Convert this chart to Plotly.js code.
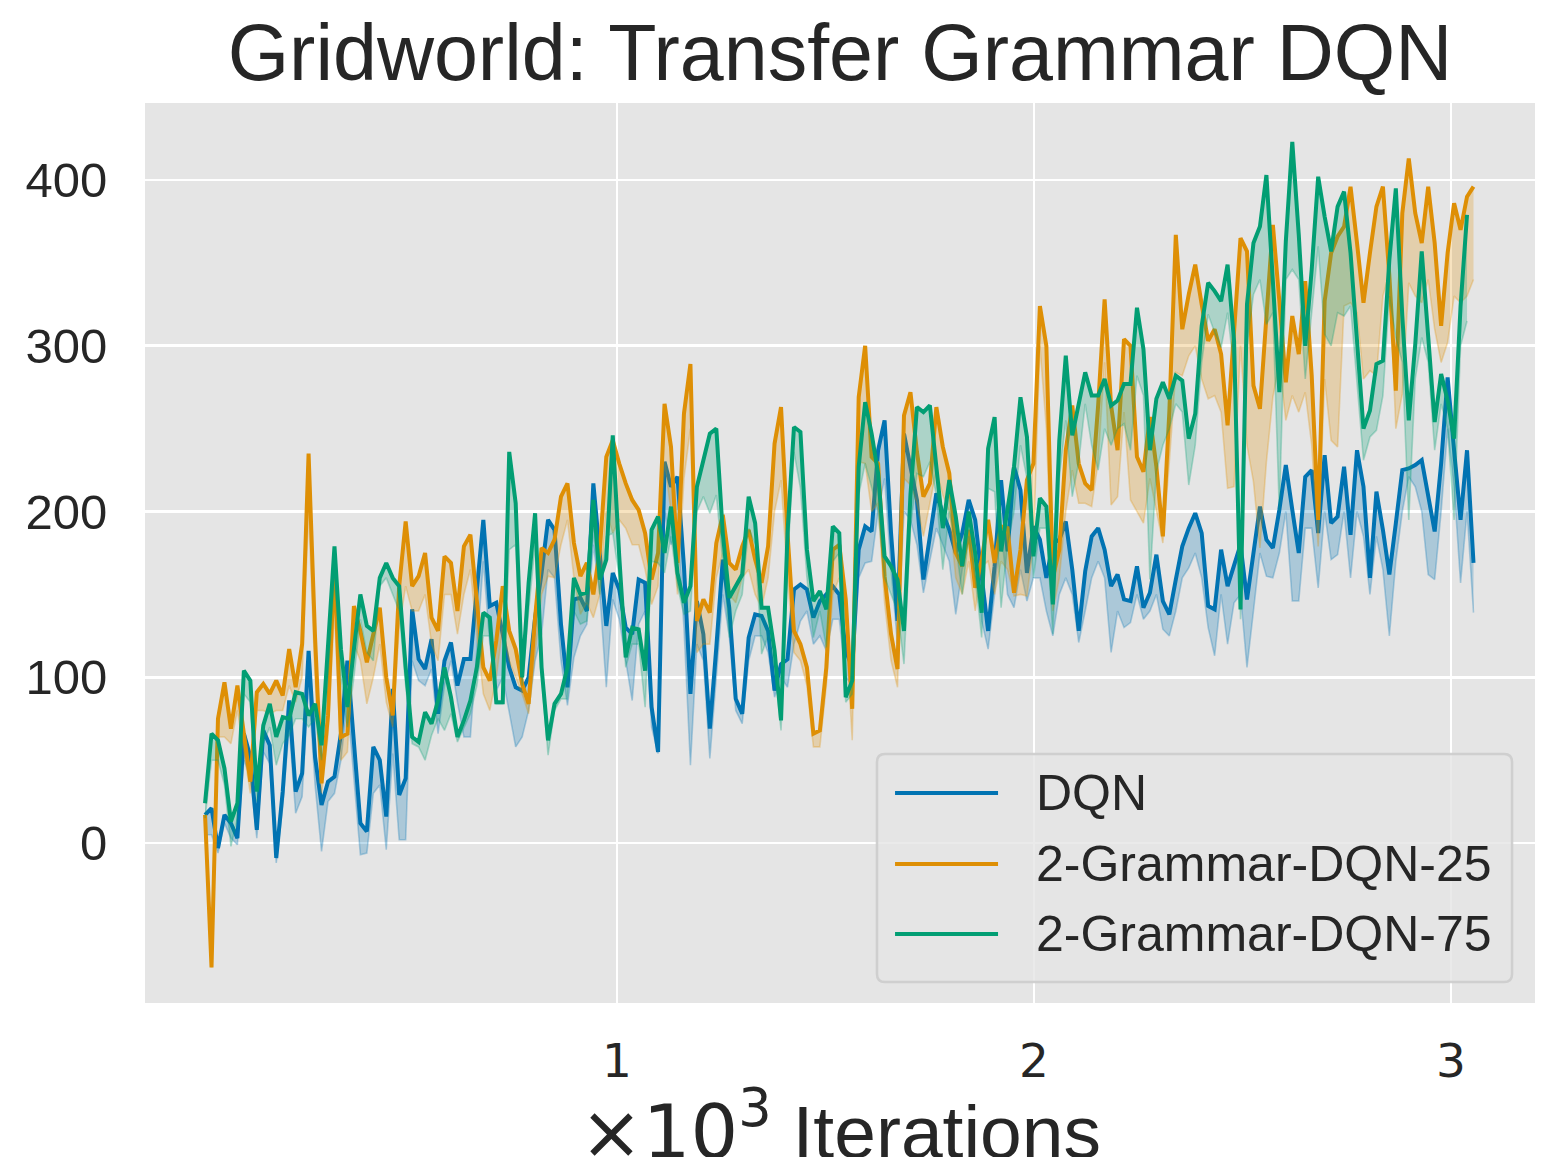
<!DOCTYPE html>
<html>
<head>
<meta charset="utf-8">
<script src="https://cdn.plot.ly/plotly-3.0.1.min.js"></script>
<style>html,body{margin:0;padding:0;background:#fff;}#chart{width:1547px;height:1157px;}</style>
</head>
<body>
<div id="chart"></div>
<script>
// x positions (thousands of iterations): first sample and spacing
const X_START = 0.012;
const X_STEP = 0.01552;

const seriesNames = ["DQN", "2-Grammar-DQN-25", "2-Grammar-DQN-75"];
const seriesColors = ["#0173b2", "#de8f05", "#029e73"];
const xTickVals = [1, 2, 3];
const xTickText = ["1", "2", "3"];
const yTickVals = [0, 100, 200, 300, 400];
const xAxisTitle = '<span style="font-family:DejaVu Sans">×10<sup>3</sup></span> Iterations';

// DQN mean
const dqn = [17,21,-3,17,12,3,66,52,8,68,59,-9,31,86,31,42,116,52,23,37,
40,66,110,59,12,7,58,50,16,93,29,39,141,111,105,123,78,110,121,95,
111,111,150,195,143,145,126,106,94,92,100,136,163,195,189,132,94,147,148,140,
217,175,131,163,153,130,126,159,157,82,55,230,215,221,167,90,146,126,69,118,
171,142,87,78,124,138,137,128,92,108,111,153,156,153,136,146,150,155,150,116,
106,177,191,188,237,255,187,134,247,227,207,159,187,211,199,189,175,187,207,195,
161,128,167,219,176,227,213,163,191,183,160,181,183,194,165,128,164,185,190,177,
155,162,147,146,167,142,151,174,146,138,159,179,190,199,187,143,141,177,155,167,
180,147,176,203,183,178,201,228,201,175,221,225,187,234,193,197,227,186,237,215,
160,212,189,162,193,225,226,228,231,209,188,229,281,237,195,237,169];
// DQN band other edge
const dqnBand = [5,5,-6,12,3,-1,50,40,3,55,48,-12,22,70,18,28,95,35,-5,25,
30,50,85,40,-7,-6,30,35,-4,54,2,2,110,98,95,105,66,95,110,85,
64,64,120,170,120,92,100,80,58,64,80,110,126,165,160,110,83,112,125,132,
180,150,94,147,135,110,86,132,140,70,54,200,180,190,130,47,120,110,51,100,
150,125,80,72,110,125,125,115,88,100,94,120,134,140,120,125,116,135,135,100,
95,160,169,170,200,220,165,120,200,195,180,151,170,190,180,170,138,165,185,170,
134,117,150,190,150,142,165,146,160,160,140,125,150,160,150,121,140,160,170,160,
115,140,130,133,150,135,140,150,129,125,140,160,166,175,160,130,113,150,120,145,
150,106,140,175,161,160,175,200,146,146,190,190,154,200,171,174,200,160,200,185,
150,185,165,125,170,200,221,215,200,162,159,200,250,215,157,200,139];

// 2-Grammar-DQN-25 mean
const g25 = [17,-75,75,97,69,95,66,37,91,96,90,98,89,117,94,120,235,124,36,77,
170,64,66,143,128,109,126,142,100,77,155,194,155,161,175,136,128,173,169,140,
179,186,146,106,98,122,155,128,117,96,84,136,178,175,183,209,217,181,161,169,
150,177,233,243,229,217,207,201,187,159,175,265,239,169,259,289,134,147,139,181,
198,169,165,179,189,171,157,179,241,263,187,128,120,106,66,68,106,177,180,147,
81,269,300,233,229,161,126,105,258,272,236,209,217,263,239,223,175,167,189,154,
171,195,169,191,190,151,177,219,229,324,300,160,177,237,264,229,217,213,264,328,
264,237,304,300,233,224,257,227,185,260,367,310,331,349,325,303,310,295,252,305,
365,357,276,262,320,373,327,278,318,295,339,282,195,327,356,366,372,396,362,326,
356,384,396,342,273,380,413,380,362,396,362,312,356,386,370,390,396];
// 2-Grammar-DQN-25 band other edge
const g25Band = [10,-75,64,64,60,80,55,30,80,80,78,80,80,95,85,100,200,100,30,65,
140,50,55,120,110,84,100,120,85,70,130,155,140,140,150,120,110,150,150,126,
150,165,125,90,80,100,130,110,100,90,78,115,150,161,160,180,195,160,138,145,
136,150,200,187,195,190,180,180,165,144,155,230,200,150,220,250,115,120,120,160,
175,150,145,160,165,150,142,160,200,219,160,115,110,95,58,58,95,150,160,130,
62,230,229,200,205,145,110,94,220,216,205,185,204,225,210,200,160,150,170,140,
167,170,150,170,165,149,150,149,180,300,250,140,160,200,225,205,205,203,230,290,
204,209,260,207,200,193,220,200,181,230,284,282,294,300,280,268,270,260,214,215,
300,240,218,178,230,269,290,255,270,260,272,240,179,280,243,239,324,326,320,280,
285,282,330,344,250,271,338,330,326,340,310,290,302,330,326,330,340];

// 2-Grammar-DQN-75 mean
const g75 = [24,66,62,45,13,24,104,98,31,71,84,64,76,75,91,90,77,84,59,119,
179,117,82,117,150,131,128,160,169,160,155,106,64,61,79,72,86,106,88,64,
74,86,106,139,136,85,85,236,205,100,157,199,106,62,84,90,106,160,150,151,
207,159,171,246,173,112,130,129,104,189,197,175,203,163,145,155,215,231,247,250,
187,148,155,162,209,193,142,142,116,74,187,251,248,177,146,152,141,191,187,88,
98,227,266,247,223,173,167,159,128,210,263,260,264,227,190,219,197,167,200,175,
139,238,257,176,200,227,269,245,173,208,203,144,243,294,246,266,284,270,270,280,
264,267,277,277,323,298,237,268,278,268,282,279,244,259,312,338,333,327,349,303,
141,325,362,372,403,339,272,363,423,367,300,346,402,378,357,384,393,356,301,250,
261,289,291,352,395,318,255,301,357,305,254,283,267,244,324,379];
// 2-Grammar-DQN-75 band other edge
const g75Band = [15,50,50,35,-2,15,90,85,25,60,70,47,60,65,75,75,70,75,50,100,
160,100,70,100,135,115,110,155,160,150,140,95,60,58,50,65,75,68,78,61,
70,78,95,125,125,84,84,177,180,95,140,180,100,53,80,87,87,140,132,134,
190,150,185,187,160,106,120,120,82,170,169,163,185,155,138,140,200,209,199,210,
170,124,140,150,190,180,114,125,105,68,170,236,214,160,124,140,118,170,175,85,
90,210,229,215,200,160,150,140,108,190,223,221,230,210,165,200,180,150,185,160,
124,214,212,142,180,200,240,220,160,190,190,126,220,255,209,230,265,240,225,250,
240,250,253,237,282,270,159,224,240,250,265,260,216,240,290,319,308,299,320,285,
135,300,331,340,313,320,200,340,346,340,280,320,360,307,300,320,318,324,280,231,
245,249,270,330,305,290,195,280,305,290,237,265,250,195,300,315];

function xsFor(arr) { return arr.map((_, i) => X_START + i * X_STEP); }
function rgba(hex, a) {
  const r = parseInt(hex.slice(1,3),16), g = parseInt(hex.slice(3,5),16), b = parseInt(hex.slice(5,7),16);
  return `rgba(${r},${g},${b},${a})`;
}

const means = [dqn, g25, g75];
const bands = [dqnBand, g25Band, g75Band];
const traces = [];
means.forEach((m, k) => {
  const x = xsFor(m);
  const col = seriesColors[k];
  traces.push({x: x, y: bands[k], type: 'scatter', mode: 'lines',
    line: {color: rgba(col, 0.28), width: 1.6}, showlegend: false, hoverinfo: 'skip'});
  traces.push({x: x, y: m, type: 'scatter', mode: 'lines', fill: 'tonexty',
    fillcolor: rgba(col, 0.25), line: {color: rgba(col, 0), width: 0}, showlegend: false, hoverinfo: 'skip'});
  traces.push({x: x, y: m, type: 'scatter', mode: 'lines', name: seriesNames[k],
    line: {color: col, width: 4}, showlegend: false});
});

// Legend (drawn in paper coordinates, matplotlib-style box with rounded corners)
const LEG = {x0: 0.5266, x1: 0.9835, y0: 0.0233, y1: 0.2767, rx: 0.0058, ry: 0.009};
const legendRows = [0.2333, 0.1544, 0.0767];
const legLineX = [0.5396, 0.6137];
const legTextX = 0.6395;

const boxPath = `M ${LEG.x0 + LEG.rx},${LEG.y0} L ${LEG.x1 - LEG.rx},${LEG.y0} Q ${LEG.x1},${LEG.y0} ${LEG.x1},${LEG.y0 + LEG.ry}` +
  ` L ${LEG.x1},${LEG.y1 - LEG.ry} Q ${LEG.x1},${LEG.y1} ${LEG.x1 - LEG.rx},${LEG.y1}` +
  ` L ${LEG.x0 + LEG.rx},${LEG.y1} Q ${LEG.x0},${LEG.y1} ${LEG.x0},${LEG.y1 - LEG.ry}` +
  ` L ${LEG.x0},${LEG.y0 + LEG.ry} Q ${LEG.x0},${LEG.y0} ${LEG.x0 + LEG.rx},${LEG.y0} Z`;

const shapes = [{type: 'path', xref: 'paper', yref: 'paper', path: boxPath, layer: 'above',
  fillcolor: 'rgba(229,229,229,0.8)', line: {color: 'rgba(204,204,204,0.9)', width: 2.5}}];
const annotations = [];
seriesNames.forEach((name, k) => {
  shapes.push({type: 'line', xref: 'paper', yref: 'paper', layer: 'above',
    x0: legLineX[0], x1: legLineX[1], y0: legendRows[k], y1: legendRows[k],
    line: {color: seriesColors[k], width: 4}});
  annotations.push({xref: 'paper', yref: 'paper', x: legTextX, y: legendRows[k],
    xanchor: 'left', yanchor: 'middle', text: name, showarrow: false,
    font: {size: 50, color: '#262626'}});
});
// x-axis title, placed low like the reference (partly cut by the page edge)
annotations.push({xref: 'paper', yref: 'paper', x: 0.5, y: -0.080, xanchor: 'center', yanchor: 'top',
  text: xAxisTitle, showarrow: false, font: {size: 75, color: '#262626'}});

const FONT = 'Liberation Sans, Arial, Helvetica, sans-serif';
const layout = {
  width: 1547, height: 1157,
  margin: {l: 145, r: 12, t: 103, b: 154},
  paper_bgcolor: '#ffffff',
  plot_bgcolor: '#e5e5e5',
  font: {family: FONT, color: '#262626', size: 49},
  title: {text: 'Gridworld: Transfer Grammar DQN', font: {family: FONT, size: 79, color: '#262626'},
    x: 0.5, xref: 'paper', xanchor: 'center', y: 0.955, yref: 'container', yanchor: 'middle'},
  xaxis: {range: [-0.132, 3.2014], tickvals: xTickVals, ticktext: xTickText,
    showgrid: true, gridcolor: '#ffffff', gridwidth: 2.7, zeroline: false, showline: false,
    ticks: 'outside', ticklen: 17, tickcolor: 'rgba(0,0,0,0)',
    tickfont: {size: 47, family: 'DejaVu Sans, Liberation Sans, sans-serif'}},
  yaxis: {range: [-96.5, 446.5], tickvals: yTickVals,
    showgrid: true, gridcolor: '#ffffff', gridwidth: 2.7, zeroline: false, showline: false,
    ticks: 'outside', ticklen: 27, tickcolor: 'rgba(0,0,0,0)', tickfont: {size: 49}},
  shapes: shapes,
  annotations: annotations,
  showlegend: false
};

Plotly.newPlot('chart', traces, layout, {displayModeBar: false, staticPlot: true});
</script>
</body>
</html>
